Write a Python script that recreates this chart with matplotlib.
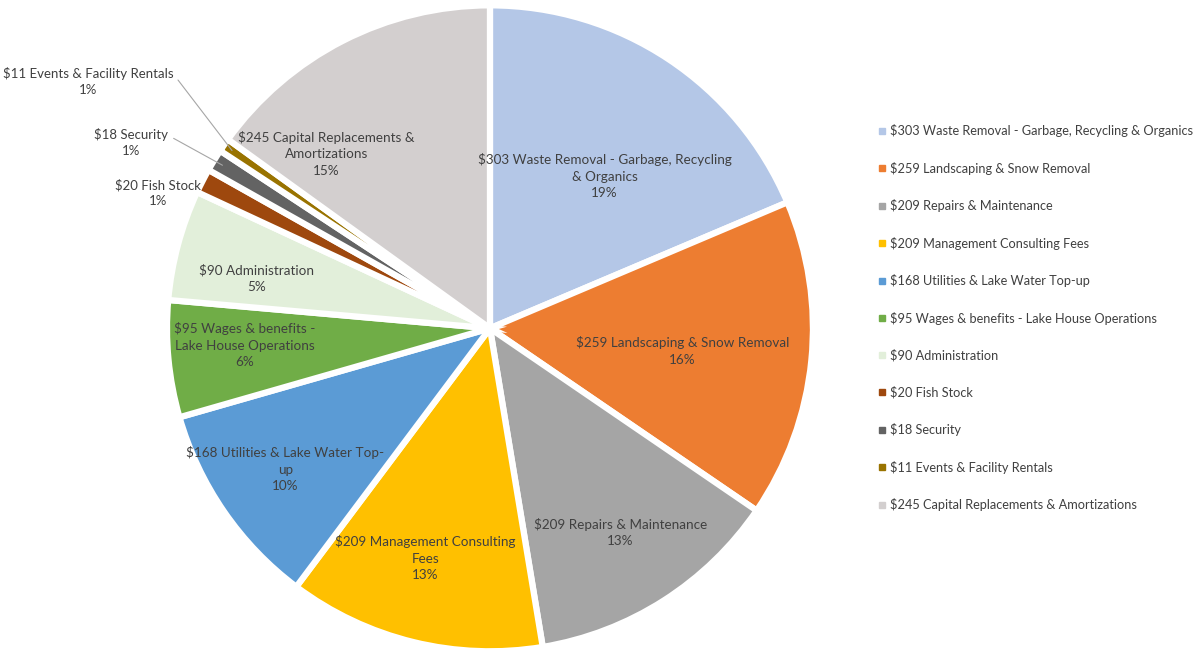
import numpy as np
import matplotlib
matplotlib.use('Agg')
import matplotlib.pyplot as plt
from matplotlib.lines import Line2D

plt.rcParams['font.family'] = ['Lato', 'DejaVu Sans']

names = ['Waste Removal - Garbage, Recycling & Organics', 'Landscaping & Snow Removal',
         'Repairs & Maintenance', 'Management Consulting Fees', 'Utilities & Lake Water Top-up',
         'Wages & benefits - Lake House Operations', 'Administration', 'Fish Stock',
         'Security', 'Events & Facility Rentals', 'Capital Replacements & Amortizations']
values = [303, 259, 209, 209, 168, 95, 90, 20, 18, 11, 245]
pcts = [19, 16, 13, 13, 10, 6, 5, 1, 1, 1, 15]
colors = ['#B4C7E7', '#ED7D31', '#A5A5A5', '#FFC000', '#5B9BD5', '#70AD47',
          '#E2EFDA', '#9E480E', '#636363', '#997300', '#D3CFCF']
# wrapped labels as they appear inside the slices
slice_text = ['$303 Waste Removal - Garbage, Recycling\n& Organics',
              '$259 Landscaping & Snow Removal',
              '$209 Repairs & Maintenance',
              '$209 Management Consulting\nFees',
              '$168 Utilities & Lake Water Top-\nup',
              '$95 Wages & benefits -\nLake House Operations',
              '$90 Administration',
              '$20 Fish Stock',
              '$18 Security',
              '$11 Events & Facility Rentals',
              '$245 Capital Replacements &\nAmortizations']
label_r = [0.59, 0.6, 0.75, 0.74, 0.77, 0.76, 0.74, 1.11, 1.25, 1.46, 0.74]
label_shift = [-3.5, -1, 0, -2, 0, -1.5, 3, 5, 4, 3, 16]  # degrees

txt_color = '#404040'

fig = plt.figure(figsize=(12.04, 6.54), dpi=100)
ax = fig.add_axes([0.1387, 0.004, 0.5365, 0.988])
wedges, _ = ax.pie(values, colors=colors, startangle=90, counterclock=False,
                   wedgeprops=dict(edgecolor='white', linewidth=4.5))
ax.set_xlim(-1, 1)
ax.set_ylim(-1, 1)
ax.set_aspect('equal')
ax.axis('off')

for i, w in enumerate(wedges):
    mid = np.deg2rad((w.theta1 + w.theta2) / 2 + label_shift[i])
    r = label_r[i]
    x, y = r * np.cos(mid), r * np.sin(mid)
    s = f'{slice_text[i]}\n{pcts[i]}%'
    if r > 1.05:
        tip = np.deg2rad((w.theta1 + w.theta2) / 2)
        ax.annotate(s, xy=(0.97 * np.cos(tip), 0.97 * np.sin(tip)), xytext=(x, y),
                    ha='center', va='center', fontsize=9.5, color=txt_color,
                    linespacing=1.4, annotation_clip=False,
                    arrowprops=dict(arrowstyle='-', color='#A6A6A6', lw=0.8,
                                    relpos=(1.0, 0.75), shrinkA=2, shrinkB=0)
                    if i != 7 else None)
    else:
        ax.text(x, y, s, ha='center', va='center', fontsize=9.75, color=txt_color,
                linespacing=1.45)

handles = [Line2D([], [], marker='s', linestyle='none', markersize=4,
                  markerfacecolor=c, markeredgecolor=c) for c in colors]
leg_labels = [f'${v} {n}' for v, n in zip(values, names)]
fig.legend(handles, leg_labels, loc='upper left', bbox_to_anchor=(0.718, 0.828),
           frameon=False, fontsize=9.2, labelspacing=1.92, handletextpad=0.1,
           handlelength=1.0, labelcolor=txt_color)

fig.savefig('out.png', dpi=100)
